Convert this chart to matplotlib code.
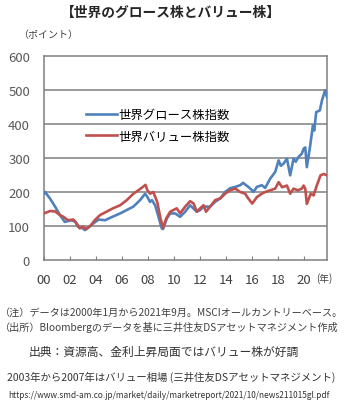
import matplotlib
matplotlib.use('Agg')
import matplotlib.pyplot as plt

plt.rcParams['font.family'] = ['Noto Sans CJK JP', 'DejaVu Sans']

# growth index (blue), decimal year / points
growth_t = [2000.00, 2000.08, 2000.46, 2000.85, 2001.23, 2001.6, 2002.1, 2002.4, 2002.6, 2002.9,
            2003.15, 2003.4, 2003.8, 2004.2, 2004.7, 2005.08, 2005.85, 2006.36, 2006.87, 2007.38,
            2007.77, 2007.95, 2008.15, 2008.3, 2008.54, 2008.8, 2009.05, 2009.15, 2009.44, 2009.7,
            2010.08, 2010.46, 2010.85, 2011.23, 2011.74, 2012.0, 2012.26, 2012.77, 2013.15, 2013.54,
            2013.92, 2014.3, 2014.7, 2015.08, 2015.3, 2015.7, 2016.0, 2016.1, 2016.36, 2016.74,
            2017.0, 2017.38, 2017.77, 2018.03, 2018.2, 2018.4, 2018.67, 2018.92, 2019.18, 2019.35,
            2019.56, 2019.82, 2019.95, 2020.08, 2020.2, 2020.46, 2020.67, 2020.77, 2020.92, 2021.2,
            2021.36, 2021.6, 2021.75]
growth_v = [195, 200, 181, 157, 132, 112, 117, 113, 98, 95,
            88, 95, 108, 119, 117, 124, 137, 147, 157, 176,
            195, 185, 171, 176, 161, 127, 93, 91, 122, 137,
            137, 127, 142, 161, 142, 147, 157, 157, 171, 181,
            200, 211, 215, 220, 227, 215, 205, 200, 215, 220,
            212, 239, 259, 293, 277, 283, 298, 249, 298, 289,
            303, 313, 327, 331, 273, 337, 396, 381, 435, 440,
            469, 499, 479]

# value index (red)
value_t = [2000.00, 2000.46, 2000.85, 2001.23, 2001.5, 2001.85, 2002.25, 2002.5, 2002.75, 2003.0,
           2003.25, 2003.6, 2003.9, 2004.3, 2004.8, 2005.3, 2005.85, 2006.36, 2006.87, 2007.25,
           2007.6, 2007.8, 2007.95, 2008.15, 2008.4, 2008.7, 2008.95, 2009.15, 2009.4, 2009.7,
           2010.2, 2010.46, 2010.85, 2011.23, 2011.5, 2011.74, 2012.0, 2012.26, 2012.45, 2012.77,
           2013.15, 2013.54, 2013.92, 2014.3, 2014.7, 2015.08, 2015.46, 2015.7, 2016.0, 2016.1,
           2016.36, 2016.74, 2017.0, 2017.38, 2017.77, 2018.03, 2018.3, 2018.67, 2018.92, 2019.18,
           2019.5, 2019.82, 2019.95, 2020.08, 2020.2, 2020.5, 2020.72, 2020.92, 2021.25, 2021.5,
           2021.75]
value_v = [137, 144, 143, 132, 127, 117, 119, 108, 93, 98,
           91, 102, 117, 132, 142, 152, 161, 176, 195, 205,
           215, 221, 205, 195, 200, 171, 123, 95, 123, 142,
           152, 137, 157, 173, 166, 142, 152, 161, 142, 157,
           176, 181, 195, 205, 210, 200, 195, 181, 166, 171,
           185, 195, 200, 205, 210, 229, 214, 219, 195, 210,
           205, 210, 219, 210, 165, 195, 190, 214, 249, 253,
           249]

x_ticks = list(range(2000, 2021, 2))
x_labels = ['00', '02', '04', '06', '08', '10', '12', '14', '16', '18', '20']
y_ticks = [0, 100, 200, 300, 400, 500, 600]

W, H = 345, 402
fig = plt.figure(figsize=(W / 100, H / 100), dpi=100)
ax = fig.add_axes([44 / W, 1 - 261 / H, 283 / W, 204 / H])

ax.plot(growth_t, growth_v, color='#4F81BD', lw=1.9, label='世界グロース株指数', zorder=3)
ax.plot(value_t, value_v, color='#C0504D', lw=1.9, label='世界バリュー株指数', zorder=4)

ax.set_xlim(2000, 2021.75)
ax.set_ylim(0, 600)
ax.set_yticks(y_ticks)
ax.set_xticks(x_ticks)
ax.set_xticklabels(x_labels)
for y in y_ticks[1:-1]:
    ax.axhline(y, color='#7f7f7f', lw=1.1, zorder=1)
for s in ax.spines.values():
    s.set_color('#7f7f7f')
    s.set_linewidth(1.1)
ax.tick_params(axis='y', length=0, pad=10, labelsize=9.5, labelcolor='#595959')
ax.tick_params(axis='x', direction='in', length=3, width=0.8, color='#7f7f7f',
               pad=9, labelsize=9.5, labelcolor='#404040')

ax.legend(loc='upper left', bbox_to_anchor=(0.15, 0.745), frameon=False,
          fontsize=8.9, handlelength=2.5, handletextpad=0.1, labelspacing=0.7,
          borderpad=0, borderaxespad=0)

def ftext(x, y, s, **kw):
    fig.text(x / W, 1 - y / H, s, va='center', **kw)

ftext(171, 13, '【世界のグロース株とバリュー株】', ha='center', fontsize=9.9,
      fontweight='bold', color='#262626')
ftext(18, 35, '（ポイント）', ha='left', fontsize=7.2, color='#404040')
ftext(316, 279, '(年)', ha='left', fontsize=7, color='#404040')
ftext(0, 313, '（注）データは2000年1月から2021年9月。MSCIオールカントリーベース。',
      ha='left', fontsize=7.3, color='#404040')
ftext(0, 328, '（出所）Bloombergのデータを基に三井住友DSアセットマネジメント作成',
      ha='left', fontsize=7.3, color='#404040')
ftext(164, 352, '出典：資源高、金利上昇局面ではバリュー株が好調', ha='center',
      fontsize=8.5, color='#333333')
ftext(171, 377, '2003年から2007年はバリュー相場 (三井住友DSアセットマネジメント)',
      ha='center', fontsize=7.5, color='#333333')
ftext(169, 396, 'https://www.smd-am.co.jp/market/daily/marketreport/2021/10/news211015gl.pdf',
      ha='center', fontsize=6, color='#333333')

fig.savefig('out.png', dpi=100)
